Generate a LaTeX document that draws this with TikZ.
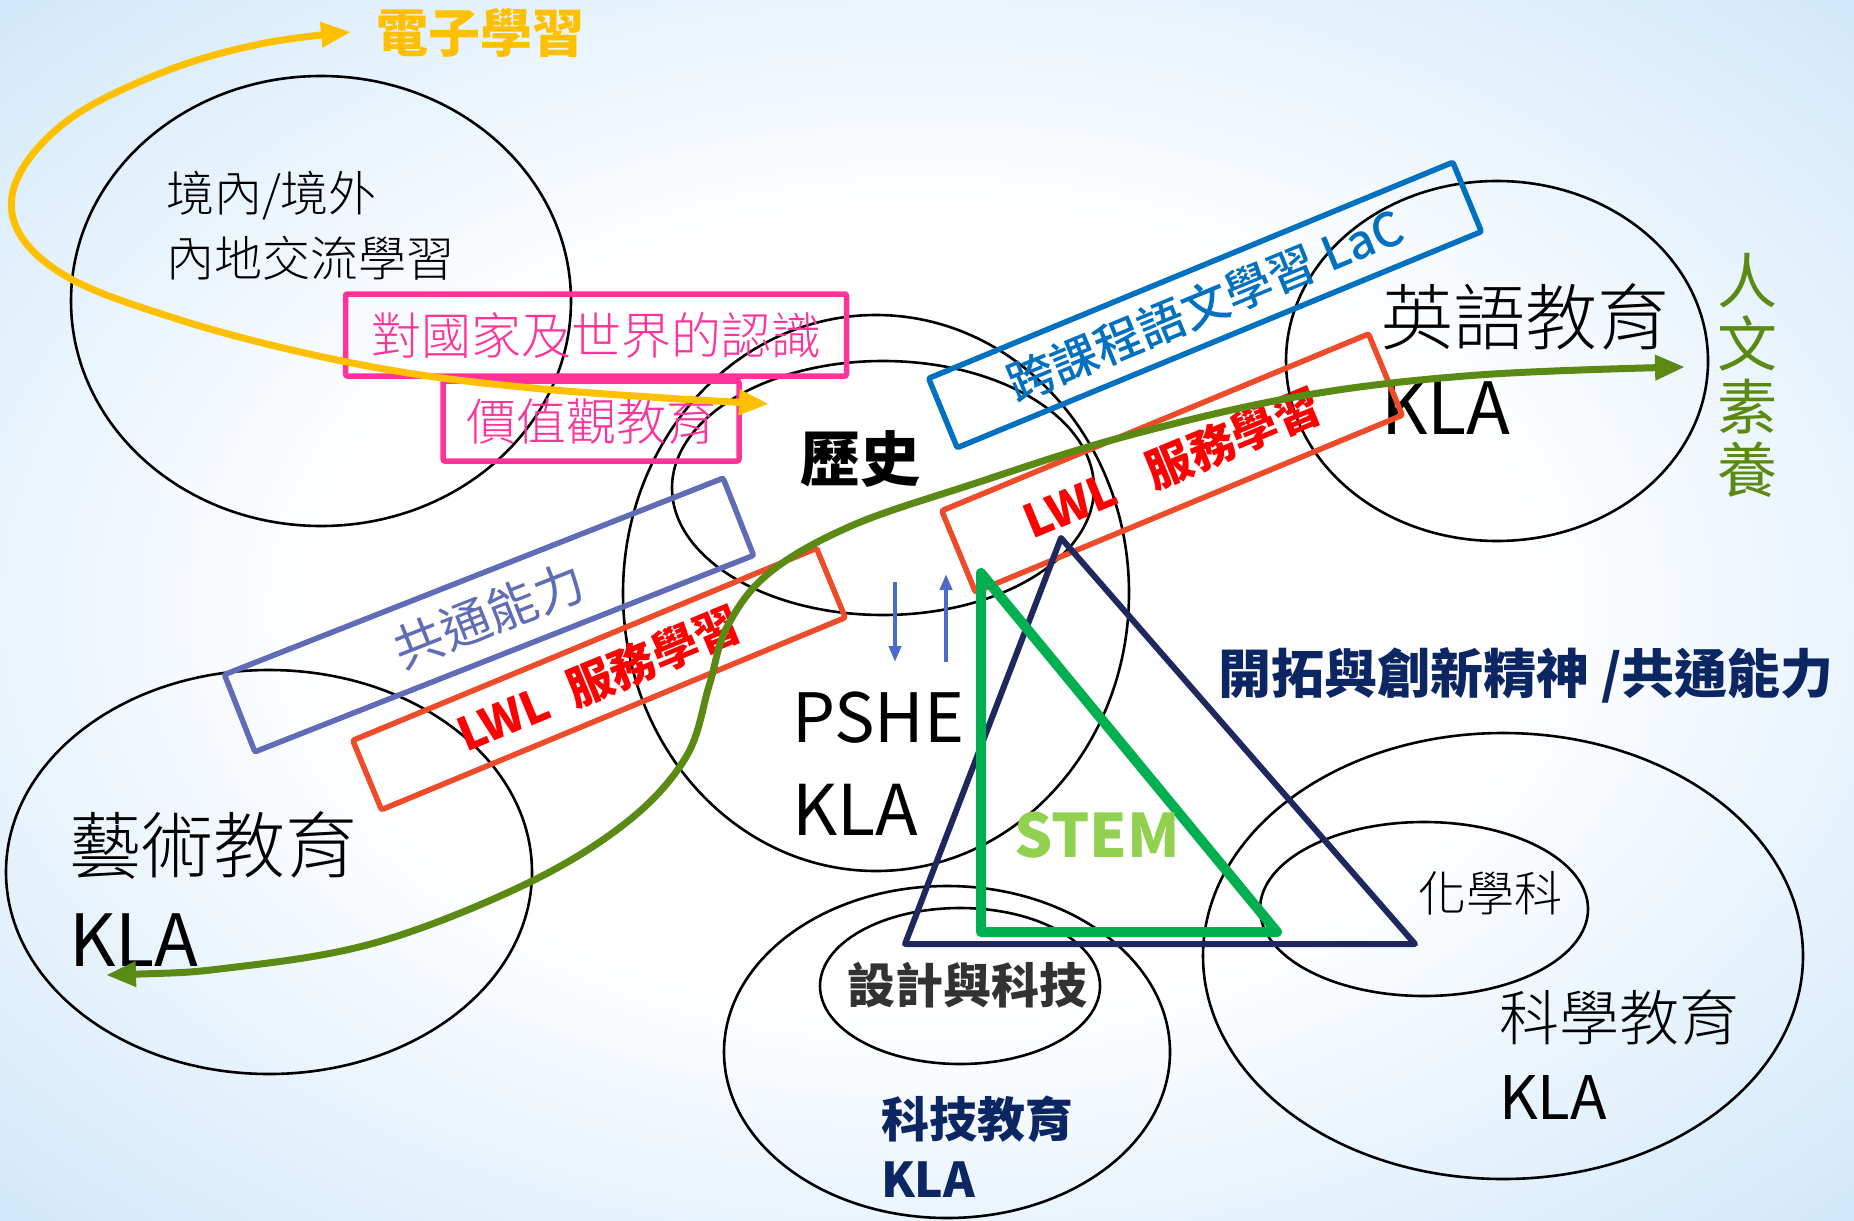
\documentclass[tikz,border=0pt]{standalone}
\usepackage{fontspec}
\setmainfont{Noto Sans CJK TC}
\newfontfamily\medfont{Noto Sans CJK TC Medium}
\newfontfamily\thinfont{Noto Sans CJK TC Light}
\usetikzlibrary{shapes.geometric,arrows.meta,positioning}

\definecolor{bgblue}{RGB}{160,208,245}
\definecolor{ylw}{RGB}{255,192,0}
\definecolor{pnk}{RGB}{255,51,153}
\definecolor{lacblue}{RGB}{0,112,192}
\definecolor{lwlbox}{RGB}{238,75,43}
\definecolor{lwltxt}{RGB}{255,0,0}
\definecolor{gskill}{RGB}{96,108,182}
\definecolor{humgreen}{RGB}{90,138,20}
\definecolor{navy}{RGB}{30,40,95}
\definecolor{navytxt}{RGB}{12,38,100}
\definecolor{stemgreen}{RGB}{0,176,80}
\definecolor{stemtxt}{RGB}{146,208,80}
\definecolor{linkblue}{RGB}{78,106,204}
\definecolor{dtgrey}{RGB}{50,50,50}

\pgfdeclareradialshading{bgglow}{\pgfpoint{0bp}{0bp}}{color(0bp)=(white); color(16bp)=(white); color(34bp)=(bgblue!45!white); color(50bp)=(bgblue)}

\begin{document}
\begin{tikzpicture}
[
x=1pt, y=-1pt,
every node/.style={inner sep=0pt, outer sep=0pt},
ring/.style={ellipse, draw=black, line width=2.6pt},
tagbox/.style={draw, line width=5.5pt, rounded corners=2pt},
hugetxt/.style={font=\fontsize{72}{80}\selectfont\thinfont},
midtxt/.style={font=\fontsize{60}{66}\selectfont\thinfont},
smalltxt/.style={font=\fontsize{48}{56}\selectfont\thinfont},
flow/.style={line width=7pt, {Triangle[length=30pt,width=24pt]}-{Triangle[length=30pt,width=24pt]}},
link/.style={linkblue, line width=4pt, -{Triangle[length=16pt,width=12pt]}}
]

% background
\shade[shading=bgglow] (0,0) rectangle (1854,1220);
\useasboundingbox (0,0) rectangle (1854,1220);

% key learning areas
\node[ring, minimum width=500pt, minimum height=450pt] (xchg) at (321,301) {};
\node[ring, minimum width=506pt, minimum height=556pt] (pshe) at (876,593) {};
\node[ring, minimum width=422pt, minimum height=254pt] (hist) at (883,488) {};
\node[ring, minimum width=422pt, minimum height=360pt] (eng) at (1497,361) {};
\node[ring, minimum width=526pt, minimum height=404pt] (art) at (269,872) {};
\node[ring, minimum width=446pt, minimum height=332pt] (tech) at (947,1052) {};
\node[ring, minimum width=280pt, minimum height=156pt] (dt) at (960,986) {};
\node[ring, minimum width=600pt, minimum height=446pt] (sci) at (1503,956) {};
\node[ring, minimum width=328pt, minimum height=174pt] (chem) at (1424,909) {};

% labels
\node[smalltxt, anchor=west] (xchgA) at (166,196) {境內/境外};
\node[smalltxt, anchor=west] (xchgB) at (166,258) {內地交流學習};
\node[hugetxt, anchor=west] (engA) at (1381,317) {英語教育};
\node[hugetxt, font=\fontsize{72}{80}\selectfont, anchor=west] (engB) at (1381,408) {KLA};
\node[font=\fontsize{60}{66}\selectfont\bfseries] (histT) at (860,459) {歷史};
\node[font=\fontsize{68}{76}\selectfont, anchor=west] (psheA) at (792,718) {PSHE};
\node[font=\fontsize{70}{76}\selectfont, anchor=west] (psheB) at (792,810) {KLA};
\node[hugetxt, anchor=west] (artA) at (69,845) {藝術教育};
\node[font=\fontsize{72}{80}\selectfont, anchor=west] (artB) at (69,940) {KLA};
\node[font=\fontsize{48}{56}\selectfont\bfseries, text=dtgrey] (dtT) at (967,985) {設計與科技};
\node[font=\fontsize{48}{56}\selectfont\bfseries, text=navytxt, anchor=west] (techA) at (881,1119) {科技教育};
\node[font=\fontsize{48}{56}\selectfont\bfseries, text=navytxt, anchor=west] (techB) at (881,1180) {KLA};
\node[smalltxt] (chemT) at (1490,893) {化學科};
\node[midtxt, anchor=west] (sciA) at (1499,1017) {科學教育};
\node[font=\fontsize{60}{66}\selectfont, anchor=west] (sciB) at (1499,1097) {KLA};

% value boxes
\node[tagbox, draw=pnk, text=pnk, font=\fontsize{50}{56}\selectfont\thinfont, minimum width=501pt, minimum height=82pt] (world) at (596,335) {對國家及世界的認識};
\node[tagbox, draw=pnk, text=pnk, font=\fontsize{50}{56}\selectfont\thinfont, minimum width=296pt, minimum height=80pt] (values) at (591,421) {價值觀教育};
\node[tagbox, draw=lacblue, text=lacblue, font=\fontsize{47}{50}\selectfont\medfont, rotate=22.4, minimum width=567pt, minimum height=75pt] (lac) at (1205,305) {跨課程語文學習 LaC};
\node[tagbox, draw=lwlbox, text=lwltxt, font=\fontsize{46}{50}\selectfont\bfseries, rotate=22.5, minimum width=462pt, minimum height=88pt] (lwlA) at (1172,463) {LWL\hspace{0.8em}服務學習};
\node[tagbox, draw=gskill, text=gskill, font=\fontsize{50}{56}\selectfont, rotate=21.5, minimum width=536pt, minimum height=83pt] (skill) at (489,615) {共通能力};
\node[tagbox, draw=lwlbox, text=lwltxt, font=\fontsize{46}{50}\selectfont\bfseries, rotate=22.5, minimum width=502pt, minimum height=75pt] (lwlB) at (599,679) {LWL\hspace{0.5em}服務學習};

% side captions
\node[font=\fontsize{52}{56}\selectfont\bfseries, text=ylw, anchor=west] (elearn) at (376,33) {電子學習};
\node[font=\fontsize{60}{63}\selectfont, text=humgreen, align=center] (human) at (1747,375) {人\\文\\素\\養};
\node[font=\fontsize{53}{56}\selectfont\bfseries, text=navytxt, anchor=west] (innov) at (1218,675) {開拓與創新精神 /共通能力};

% STEM
\coordinate (ttop) at (1061,538);
\coordinate (tleft) at (905,944);
\coordinate (tright) at (1415,944);
\draw[navy, line width=6pt, line join=round] (ttop) -- (tleft) -- (tright) -- cycle;
\coordinate (stop) at (981,573);
\coordinate (sleft) at (981,932);
\coordinate (sright) at (1277,932);
\draw[stemgreen, line width=10pt, line join=round] (stop) -- (sleft) -- (sright) -- cycle;
\node[font=\fontsize{60}{66}\selectfont\bfseries, text=stemtxt] (stem) at (1097,835) {STEM};

% history <-> PSHE
\coordinate (dnA) at (895,582);
\coordinate (dnB) at (895,662);
\coordinate (upA) at (946,662);
\coordinate (upB) at (946,574);
\draw[link] (dnA) -- (dnB);
\draw[link] (upA) -- (upB);

% e-learning and humanities threads
\draw[flow, ylw] plot[smooth, tension=0.6] coordinates {(769,404) (650,397) (532,388) (414,374) (296,351) (177,319) (71,279) (18,231) (18,177) (71,118) (166,71) (260,44) (351,32)};
\draw[flow, humgreen] plot[smooth, tension=0.6] coordinates {(106,975) (236,967) (378,942) (526,884) (627,822) (686,757) (709,686) (727,627) (769,573) (851,526) (970,485) (1123,437) (1301,396) (1478,375) (1685,367)};
\end{tikzpicture}
\end{document}
